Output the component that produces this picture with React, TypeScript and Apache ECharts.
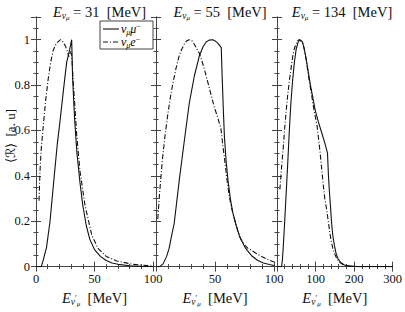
import React, { useEffect, useRef } from "react";
import * as echarts from "echarts";

// ---- data: [E (MeV), <R> (a.u.)] ----
const P1_MU: number[][] = [
  [0, 0], [4.5, 0], [6, 0.025], [9, 0.085], [12, 0.2], [15.6, 0.4], [18.2, 0.54], [20.5, 0.64],
  [23.5, 0.78], [26.2, 0.9], [28.5, 0.95], [30.5, 1.0], [31.3, 0.83], [33, 0.65], [35, 0.5],
  [37.6, 0.37], [40, 0.27], [43, 0.18], [46, 0.12], [50, 0.075], [55, 0.045], [60, 0.027],
  [65, 0.016], [70, 0.01], [80, 0.004], [90, 0.001], [100, 0],
];
const P1_E: number[][] = [
  [2.6, 0.29], [3.4, 0.42], [4.5, 0.52], [6.2, 0.62], [8, 0.72], [10.5, 0.83], [12.5, 0.9],
  [14.8, 0.955], [17.5, 0.985], [21, 1.0], [23, 0.99], [24.8, 0.975], [26.5, 0.955], [28, 0.925],
  [29.5, 0.95], [30.5, 0.93], [32, 0.8], [34.8, 0.58], [37.6, 0.42], [41.9, 0.27], [47.6, 0.14],
  [53, 0.08], [60, 0.045], [69, 0.025], [83, 0.01], [97, 0.004], [100, 0.003],
];
const P2_MU: number[][] = [
  [0, 0], [3, 0], [6, 0.012], [9, 0.045], [11.1, 0.08], [13, 0.13], [15.4, 0.19], [19.7, 0.38],
  [23.9, 0.55], [28.2, 0.72], [32.5, 0.84], [36.8, 0.93], [40, 0.97], [42.5, 0.99], [45, 0.998],
  [48.1, 1.0], [50, 0.995], [52.4, 0.985], [55.3, 0.965], [56, 0.85], [57, 0.7], [58, 0.57],
  [59.5, 0.46], [61, 0.38], [63, 0.3], [65, 0.24], [68, 0.18], [71, 0.13], [76, 0.08],
  [81, 0.048], [86, 0.028], [91, 0.016], [96, 0.009], [100, 0.005],
];
const P2_E: number[][] = [
  [1.5, 0.21], [3, 0.32], [5.4, 0.47], [7.5, 0.57], [9.7, 0.66], [12, 0.74], [14, 0.8], [17, 0.875],
  [19.7, 0.93], [22, 0.96], [23.9, 0.98], [26, 0.995], [28.2, 1.0], [30.5, 0.995], [32.5, 0.98],
  [35, 0.955], [36.8, 0.94], [39, 0.905], [41, 0.87], [43, 0.83], [45.3, 0.785], [47.5, 0.74],
  [49.6, 0.7], [51.8, 0.665], [53.8, 0.63], [55, 0.61], [56.5, 0.54], [58.1, 0.475], [60, 0.39],
  [61.8, 0.32], [63.5, 0.27], [65.2, 0.234], [67.5, 0.19], [69.5, 0.155], [72, 0.12], [75.2, 0.095],
  [78, 0.08], [82, 0.068], [86, 0.055], [90, 0.043], [94, 0.033], [100, 0.02],
];
const P3_MU: number[][] = [
  [0, 0], [12, 0], [14, 0.03], [16, 0.08], [20, 0.2], [24, 0.33], [28, 0.46], [32, 0.6], [36, 0.72],
  [40, 0.81], [45, 0.9], [50, 0.96], [55, 0.99], [59, 1.0], [66, 0.99], [70, 0.965], [74, 0.93],
  [80, 0.87], [86.7, 0.8], [93, 0.745], [99, 0.69], [107, 0.64], [116, 0.59], [124, 0.545],
  [131, 0.5], [133.5, 0.4], [136, 0.33], [139, 0.26], [141.7, 0.19], [145, 0.135], [149, 0.093],
  [153, 0.06], [158, 0.036], [165, 0.018], [175, 0.007], [190, 0.002], [210, 0], [300, 0],
];
const P3_E: number[][] = [
  [7.5, 0.34], [12, 0.44], [16, 0.52], [20, 0.61], [24, 0.69], [28, 0.76], [33, 0.83], [37, 0.88],
  [41, 0.93], [45, 0.96], [49, 0.98], [53, 0.995], [57, 1.0], [62, 0.995], [66, 0.985], [70, 0.965],
  [76, 0.91], [82.5, 0.83], [89, 0.765], [95, 0.7], [100, 0.655], [104, 0.62], [108, 0.56],
  [112, 0.5], [116, 0.43], [120, 0.36], [124, 0.3], [129, 0.25], [133, 0.2], [137, 0.15],
  [141, 0.11], [145, 0.08], [150, 0.055], [155, 0.035], [162, 0.02], [170, 0.01], [180, 0.004],
  [195, 0.001], [210, 0], [300, 0],
];

const PANEL_ENERGIES = ["31", "55", "134"];
const X_MAX = [100, 100, 300];
const X_INTERVAL = [50, 50, 100];
const Y_TICKS = [0, 0.2, 0.4, 0.6, 0.8, 1];
const LEGEND_LABELS = ["mu", "e"];

const FONT = "Liberation Serif";
const INK = "#111";
const FRAME = "#444";

const GRIDS = [
  { left: 36, width: 117 },
  { left: 156, width: 118 },
  { left: 277, width: 120 },
];
const TOP = 17;
const BOTTOM = 35;

const LH = 18;
const tok = (size: number, italic: boolean, va: string) => ({
  fontFamily: FONT,
  fontStyle: italic ? "italic" : "normal",
  fontWeight: "normal",
  fontSize: size,
  color: INK,
  lineHeight: LH,
  verticalAlign: va,
});
const richBase = {
  e: tok(14.5, true, "middle"),
  s: tok(9.5, true, "bottom"),
  ss: tok(7, true, "bottom"),
  pr: tok(8, false, "middle"),
  n: tok(14.5, false, "middle"),
};

export default function App() {
  const ref = useRef<HTMLDivElement>(null);
  useEffect(() => {
    if (!ref.current) return;
    const chart = echarts.init(ref.current, null, { renderer: "svg" });
    const series = [P1_MU, P1_E, P2_MU, P2_E, P3_MU, P3_E];
    const xAxes: any[] = [];
    const yAxes: any[] = [];
    GRIDS.forEach((g, i) => {
      const commonX = {
        type: "value",
        gridIndex: i,
        min: 0,
        max: X_MAX[i],
        interval: X_INTERVAL[i],
        axisLine: { show: true, lineStyle: { color: FRAME, width: 1 } },
        axisTick: { show: true, inside: true, length: 5, lineStyle: { color: FRAME } },
        minorTick: { show: true, splitNumber: 5, length: 2.5, lineStyle: { color: FRAME } },
        splitLine: { show: false },
        minorSplitLine: { show: false },
      };
      xAxes.push({
        ...commonX,
        position: "bottom",
        axisLabel: {
          show: true,
          fontFamily: FONT,
          fontSize: 12.5,
          color: INK,
          margin: 6,
          showMinLabel: i === 0,
        },
        name: "{e|E}{s|ν}{pr|′}{ss|μ}{n|  [MeV]}",
        nameLocation: "middle",
        nameGap: 21,
        nameTextStyle: { rich: richBase },
      });
      xAxes.push({ ...commonX, position: "top", axisLabel: { show: false } });
      const commonY = {
        type: "value",
        gridIndex: i,
        min: 0,
        max: 1.1,
        interval: 0.2,
        axisLine: { show: true, lineStyle: { color: FRAME, width: 1 } },
        axisTick: { show: true, inside: true, length: 5, lineStyle: { color: FRAME } },
        minorTick: { show: true, splitNumber: 4, length: 2.5, lineStyle: { color: FRAME } },
        splitLine: { show: false },
        minorSplitLine: { show: false },
      };
      yAxes.push({
        ...commonY,
        position: "left",
        axisLabel: {
          show: i === 0,
          fontFamily: FONT,
          fontSize: 12.5,
          color: INK,
          margin: 6,
          showMaxLabel: false,
          formatter: (v: number) => {
            const hit = Y_TICKS.find((t) => Math.abs(t - v) < 1e-6);
            return hit === undefined ? "" : String(hit);
          },
        },
      });
      yAxes.push({ ...commonY, position: "right", axisLabel: { show: false } });
    });

    const seriesOpts = series.map((d, k) => {
      const panel = Math.floor(k / 2);
      const dashed = k % 2 === 1;
      return {
        type: "line",
        name: LEGEND_LABELS[k % 2] + panel,
        xAxisIndex: panel * 2,
        yAxisIndex: panel * 2,
        data: d,
        showSymbol: false,
        smooth: false,
        clip: true,
        lineStyle: { color: INK, width: 1.1, type: dashed ? [5, 2, 1, 2] : "solid" },
      };
    });

    const titles = GRIDS.map((g, i) => ({
      text: `{e|E}{s|ν}{ss|μ}{n| = ${PANEL_ENERGIES[i]}  [MeV]}`,
      left: g.left + g.width / 2,
      top: -2,
      textAlign: "center",
      textStyle: { rich: richBase, fontWeight: "normal" },
    }));

    const LLH = 14;
    const ltok = (size: number, italic: boolean, va: string) => ({
      fontFamily: FONT,
      fontStyle: italic ? "italic" : "normal",
      fontSize: size,
      color: INK,
      lineHeight: LLH,
      verticalAlign: va,
    });
    const legendRich = {
      i: ltok(12, true, "middle"),
      s: ltok(8, true, "bottom"),
      p: ltok(8, false, "top"),
    };

    chart.setOption({
      animation: false,
      backgroundColor: "#fff",
      title: titles,
      grid: GRIDS.map((g) => ({ left: g.left, width: g.width, top: TOP, bottom: BOTTOM, containLabel: false })),
      xAxis: xAxes,
      yAxis: yAxes,
      series: seriesOpts,
      graphic: [
        {
          type: "text",
          x: 10,
          y: 136,
          rotation: Math.PI / 2,
          style: {
            text: "⟨ℛ⟩  [a. u]",
            font: `13px "${FONT}"`,
            fill: INK,
            align: "center",
            verticalAlign: "middle",
          },
        },
        {
          type: "rect",
          shape: { x: 100, y: 21, width: 53, height: 28 },
          style: { fill: "#fff", stroke: FRAME, lineWidth: 1 },
          z: 10,
        },
        {
          type: "line",
          shape: { x1: 103, y1: 29, x2: 119, y2: 29 },
          style: { stroke: INK, lineWidth: 1.1 },
          z: 11,
        },
        {
          type: "line",
          shape: { x1: 103, y1: 42, x2: 119, y2: 42 },
          style: { stroke: INK, lineWidth: 1.1, lineDash: [5, 2, 1, 2] },
          z: 11,
        },
        {
          type: "text",
          x: 121,
          y: 29,
          z: 11,
          style: { text: "{i|ν}{s|μ}{i|μ}{p|−}", rich: legendRich, verticalAlign: "middle" },
        },
        {
          type: "text",
          x: 121,
          y: 42,
          z: 11,
          style: { text: "{i|ν}{s|μ}{i|e}{p|−}", rich: legendRich, verticalAlign: "middle" },
        },
      ],
    });
    return () => chart.dispose();
  }, []);
  return <div ref={ref} style={{ width: 405, height: 312, position: "absolute", left: 0, top: 0 }} />;
}
